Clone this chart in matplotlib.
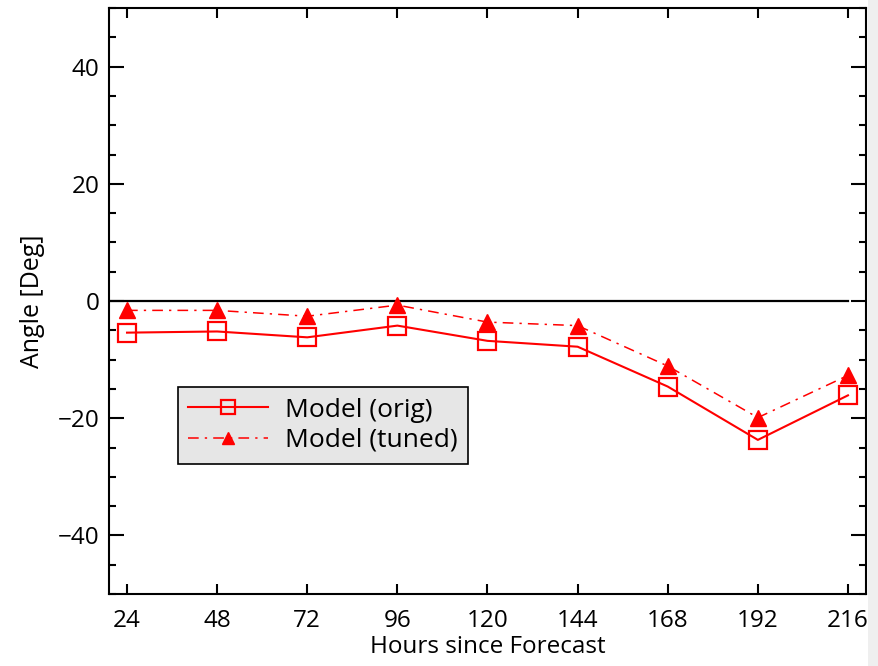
import matplotlib
matplotlib.use("Agg")
import matplotlib.pyplot as plt
from matplotlib.patches import Rectangle
from matplotlib.ticker import MultipleLocator

hours = [24, 48, 72, 96, 120, 144, 168, 192, 216]
orig = [-5.4, -5.2, -6.2, -4.2, -6.8, -7.8, -14.6, -23.7, -16.1]
tuned = [-1.6, -1.6, -2.6, -0.7, -3.6, -4.2, -11.1, -19.9, -12.7]
xticks = [24, 48, 72, 96, 120, 144, 168, 192, 216]
yticks = [-40, -20, 0, 20, 40]

plt.rcParams['font.family'] = ['Open Sans', 'DejaVu Sans']
plt.rcParams['axes.unicode_minus'] = True

FS = 17.5

fig = plt.figure(figsize=(8.79, 6.66), dpi=100)
fig.patches.append(Rectangle((868/879, 0), 1 - 868/879, 1, transform=fig.transFigure,
                             facecolor='#efefef', edgecolor='none', zorder=-1))
ax = fig.add_axes([109/879, 72/666, 757/879, 586/666])

ax.plot([19.2, 216], [0, 0], color='black', lw=1.6, zorder=1)
ax.plot(hours, orig, color='red', lw=1.5, marker='s', markersize=12.5,
        markerfacecolor='none', markeredgecolor='red', markeredgewidth=1.6,
        label='Model (orig)', zorder=3)
ax.plot(hours, tuned, color='red', lw=1.1, linestyle=(0, (7, 4, 1.5, 4)), marker='^',
        markersize=11, markerfacecolor='red', markeredgecolor='red',
        label='Model (tuned)', zorder=3)

ax.set_xlim(19.2, 220.8)
ax.set_ylim(-50, 50)
ax.set_xticks(xticks)
ax.set_yticks(yticks)
ax.yaxis.set_minor_locator(MultipleLocator(5))
ax.tick_params(axis='both', which='both', direction='in', top=True, right=True,
               labelsize=FS, width=1.5, color='black')
ax.tick_params(axis='y', which='major', length=10.5, pad=7)
ax.tick_params(axis='y', which='minor', length=5)
ax.tick_params(axis='x', which='major', length=7, pad=11)
for s in ax.spines.values():
    s.set_linewidth(1.5)

ax.set_xlabel('Hours since Forecast', fontsize=FS, labelpad=1)
ax.set_ylabel('Angle [Deg]', fontsize=FS + 0.5, labelpad=9)

leg = ax.legend(loc='upper left', bbox_to_anchor=(0.091, 0.353), borderaxespad=0,
                fancybox=False, edgecolor='black', facecolor='#e6e6e6', framealpha=1,
                fontsize=19, handlelength=3.0, labelspacing=0.2, borderpad=0.4,
                handletextpad=0.65, markerscale=0.8)
leg.get_frame().set_linewidth(1.2)

fig.savefig('out.png', dpi=100)
